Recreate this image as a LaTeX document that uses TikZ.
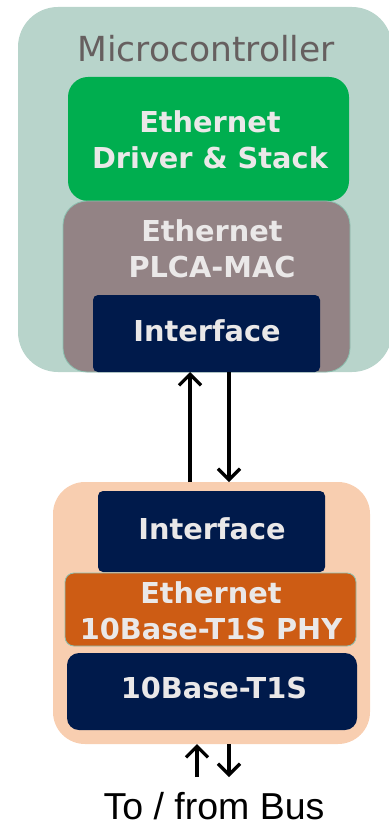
\documentclass[tikz,border=0pt]{standalone}
\usepackage{fontspec}
\setmainfont{DejaVu Sans}
\newfontfamily\arialfont{Liberation Sans}
\usetikzlibrary{arrows.meta}
\definecolor{mcubg}{HTML}{B8D4CB}
\definecolor{stackgreen}{HTML}{00AE4F}
\definecolor{macgray}{HTML}{938385}
\definecolor{navy}{HTML}{001A4B}
\definecolor{peach}{HTML}{F8CEB0}
\definecolor{phyorange}{HTML}{CD5C14}
\definecolor{labelwhite}{HTML}{EAE8E8}
\definecolor{titlegray}{HTML}{665F5F}
\definecolor{edgeteal}{HTML}{8CC0B0}
\tikzset{
  blk/.style={rectangle, inner sep=0pt, outer sep=0pt},
  lbl/.style={text=labelwhite, font=\bfseries\fontsize{28.8}{35.5}\selectfont, align=center, inner sep=0pt},
  arr/.style={line width=3.3pt, -{Straight Barb[length=11pt,width=22pt,line width=3.3pt]}},
}
\begin{document}
\begin{tikzpicture}[x=1pt,y=-1pt]
\useasboundingbox (0,0) rectangle (388,826);
% microcontroller side
\node[blk, fill=mcubg, rounded corners=40pt, minimum width=374pt, minimum height=365pt] (mcu) at (205,189.5) {};
\node[text=titlegray, font=\fontsize{34.5}{40}\selectfont, inner sep=0pt, anchor=base] (mcut) at (206,62) {Microcontroller};
\node[blk, fill=stackgreen, rounded corners=20pt, minimum width=281pt, minimum height=124pt] (drv) at (208.5,139) {};
\node[blk, fill=macgray, draw=edgeteal, line width=0.8pt, rounded corners=24pt, minimum width=287pt, minimum height=171pt] (mac) at (206.5,286.5) {};
\node[blk, fill=navy, rounded corners=5pt, minimum width=227pt, minimum height=77pt] (ifca) at (206.5,333.5) {};
\node[lbl] (drvt) at (210,140) {Ethernet\\Driver \& Stack};
\node[lbl] (mact) at (212,249) {Ethernet\\PLCA-MAC};
\node[lbl] (ifcat) at (207,331) {Interface};
% PHY side
\node[blk, fill=peach, rounded corners=32pt, minimum width=317pt, minimum height=262pt] (phy) at (211.5,613) {};
\node[blk, fill=navy, rounded corners=5pt, minimum width=227pt, minimum height=81pt] (ifcb) at (211.5,531.5) {};
\node[blk, fill=phyorange, draw=edgeteal, line width=0.8pt, rounded corners=9pt, minimum width=291pt, minimum height=73pt] (phyc) at (210.5,609.5) {};
\node[blk, fill=navy, rounded corners=12pt, minimum width=290pt, minimum height=77pt] (tx) at (212,691.5) {};
\node[lbl] (ifcbt) at (212,529) {Interface};
\node[lbl] (phyct) at (211,611) {Ethernet\\10Base-T1S PHY};
\node[lbl] (txt) at (214,688) {10Base-T1S};
\node[font=\arialfont\fontsize{37.5}{42}\selectfont, inner sep=0pt, anchor=base] (bus) at (214,819) {To / from Bus};
% data paths
\coordinate (upx) at (190,0);
\coordinate (dnx) at (229,0);
\coordinate (busup) at (197,777);
\coordinate (busdn) at (229,777);
\draw[arr] (phy.north -| upx) -- (ifca.south -| upx);
\draw[arr] (ifca.south -| dnx) -- (phy.north -| dnx);
\draw[arr] (busup) -- (phy.south -| busup);
\draw[arr] (phy.south -| busdn) -- (busdn);
\end{tikzpicture}
\end{document}
